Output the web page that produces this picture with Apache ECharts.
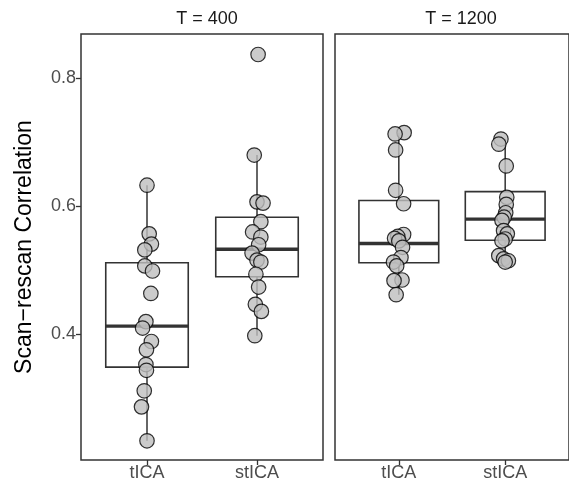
<!DOCTYPE html>
<html>
<head>
<meta charset="utf-8">
<script src="https://cdn.jsdelivr.net/npm/echarts@6/dist/echarts.min.js"></script>
<style>html,body{margin:0;padding:0;background:#fff}#c{width:569px;height:490px}</style>
</head>
<body>
<div id="c"></div>
<script>
const categories = ['tICA', 'stICA'];
const panels = ['T = 400', 'T = 1200'];
const yTicks = [0.4, 0.6, 0.8];

// box stats [min, Q1, median, Q3, max] per category
const box400 = [[0.234, 0.349, 0.413, 0.512, 0.633], [0.398, 0.490, 0.533, 0.583, 0.680]];
const box1200 = [[0.462, 0.512, 0.542, 0.609, 0.715], [0.513, 0.547, 0.580, 0.623, 0.705]];

// individual subjects
const tica400 = [0.633, 0.557, 0.541, 0.532, 0.507, 0.499, 0.464, 0.420, 0.410, 0.389, 0.376, 0.353, 0.344, 0.312, 0.287, 0.234];
const tica400Jitter = [0, 0.02, 0.04, -0.02, -0.02, 0.05, 0.035, -0.01, -0.04, 0.04, -0.005, -0.01, -0.005, -0.025, -0.05, 0];
const stica400 = [0.837, 0.680, 0.607, 0.605, 0.576, 0.560, 0.552, 0.540, 0.527, 0.516, 0.513, 0.494, 0.474, 0.447, 0.436, 0.398];
const stica400Jitter = [0.01, -0.025, 0, 0.055, 0.035, -0.04, 0.035, 0.015, -0.045, 0, 0.035, -0.01, 0.015, -0.015, 0.04, -0.02];
const tica1200 = [0.715, 0.713, 0.688, 0.625, 0.604, 0.556, 0.553, 0.550, 0.546, 0.536, 0.520, 0.513, 0.507, 0.485, 0.484, 0.462];
const tica1200Jitter = [0.05, -0.035, -0.03, -0.03, 0.045, 0.045, -0.01, -0.04, 0, 0.035, 0.02, -0.05, -0.02, 0.03, -0.045, -0.025];
const stica1200 = [0.705, 0.697, 0.663, 0.614, 0.603, 0.590, 0.583, 0.578, 0.562, 0.557, 0.549, 0.546, 0.523, 0.518, 0.515, 0.513];
const stica1200Jitter = [-0.04, -0.06, 0.01, 0.015, 0.01, 0.005, -0.01, -0.03, -0.015, 0.02, 0, -0.03, -0.06, -0.015, 0.03, 0];

const FONT = 'Liberation Sans';
const DARK = '#333333';

function boxData(stats) {
  return stats.map((s, i) => [i + 1].concat(s));
}
function pts(vals, jit, cat) {
  return vals.map((v, i) => [cat + jit[i], v]);
}

function renderBox(params, api) {
  const x = api.value(0);
  const pMin = api.coord([x, api.value(1)]);
  const pQ1 = api.coord([x, api.value(2)]);
  const pMed = api.coord([x, api.value(3)]);
  const pQ3 = api.coord([x, api.value(4)]);
  const pMax = api.coord([x, api.value(5)]);
  const half = api.size([0.75, 0])[0] / 2;
  const cx = pMed[0];
  return {
    type: 'group',
    children: [
      {type: 'line', shape: {x1: cx, y1: pMin[1], x2: cx, y2: pQ1[1]}, style: {stroke: DARK, lineWidth: 1.5}},
      {type: 'line', shape: {x1: cx, y1: pQ3[1], x2: cx, y2: pMax[1]}, style: {stroke: DARK, lineWidth: 1.5}},
      {type: 'rect', shape: {x: cx - half, y: pQ3[1], width: 2 * half, height: pQ1[1] - pQ3[1]}, style: {fill: '#fff', stroke: DARK, lineWidth: 1.6}},
      {type: 'line', shape: {x1: cx - half, y1: pMed[1], x2: cx + half, y2: pMed[1]}, style: {stroke: DARK, lineWidth: 3.4}}
    ]
  };
}

const grids = [
  {left: 81, top: 34, width: 242, height: 426, show: true, borderColor: DARK, borderWidth: 1.5, backgroundColor: '#fff'},
  {left: 335, top: 34, width: 242, height: 426, show: true, borderColor: DARK, borderWidth: 1.5, backgroundColor: '#fff'}
];

function xAxis(gi) {
  return {
    type: 'value', gridIndex: gi, min: 0.4, max: 2.6,
    axisLine: {show: false},
    splitLine: {show: false},
    axisTick: {show: true, length: 5, lineStyle: {color: DARK, width: 1.3}, customValues: [1, 2]},
    axisLabel: {show: true, customValues: [1, 2], formatter: v => categories[Math.round(v) - 1], color: '#4D4D4D', fontSize: 18, fontFamily: FONT, margin: 4}
  };
}
function yAxis(gi) {
  const first = gi === 0;
  return {
    type: 'value', gridIndex: gi, min: 0.204, max: 0.869,
    axisLine: {show: false},
    splitLine: {show: false},
    axisTick: {show: first, length: 5, lineStyle: {color: DARK, width: 1.3}, customValues: yTicks},
    axisLabel: {show: first, customValues: yTicks, formatter: v => v.toFixed(1), color: '#4D4D4D', fontSize: 18, fontFamily: FONT, margin: 5},
    name: first ? 'Scan\u2212rescan Correlation' : '',
    nameLocation: 'middle', nameRotate: 90, nameGap: 45,
    nameTextStyle: {color: '#000', fontSize: 23, fontFamily: FONT}
  };
}

const pointStyle = {color: '#BEBEBE', borderColor: '#000', borderWidth: 1.2};

const chart = echarts.init(document.getElementById('c'), null, {renderer: 'canvas'});
chart.setOption({
  animation: false,
  backgroundColor: '#fff',
  title: [
    {text: panels[0], left: 202, top: 5, textAlign: 'center', textStyle: {color: '#1A1A1A', fontSize: 18, fontWeight: 'normal', fontFamily: FONT}},
    {text: panels[1], left: 456, top: 5, textAlign: 'center', textStyle: {color: '#1A1A1A', fontSize: 18, fontWeight: 'normal', fontFamily: FONT}}
  ],
  grid: grids,
  xAxis: [xAxis(0), xAxis(1)],
  yAxis: [yAxis(0), yAxis(1)],
  series: [
    {type: 'custom', xAxisIndex: 0, yAxisIndex: 0, renderItem: renderBox, data: boxData(box400), z: 2},
    {type: 'custom', xAxisIndex: 1, yAxisIndex: 1, renderItem: renderBox, data: boxData(box1200), z: 2},
    {type: 'scatter', xAxisIndex: 0, yAxisIndex: 0, symbolSize: 14.5, itemStyle: pointStyle, data: pts(tica400, tica400Jitter, 1), z: 3},
    {type: 'scatter', xAxisIndex: 0, yAxisIndex: 0, symbolSize: 14.5, itemStyle: pointStyle, data: pts(stica400, stica400Jitter, 2), z: 3},
    {type: 'scatter', xAxisIndex: 1, yAxisIndex: 1, symbolSize: 14.5, itemStyle: pointStyle, data: pts(tica1200, tica1200Jitter, 1), z: 3},
    {type: 'scatter', xAxisIndex: 1, yAxisIndex: 1, symbolSize: 14.5, itemStyle: pointStyle, data: pts(stica1200, stica1200Jitter, 2), z: 3}
  ]
});
</script>
</body>
</html>
